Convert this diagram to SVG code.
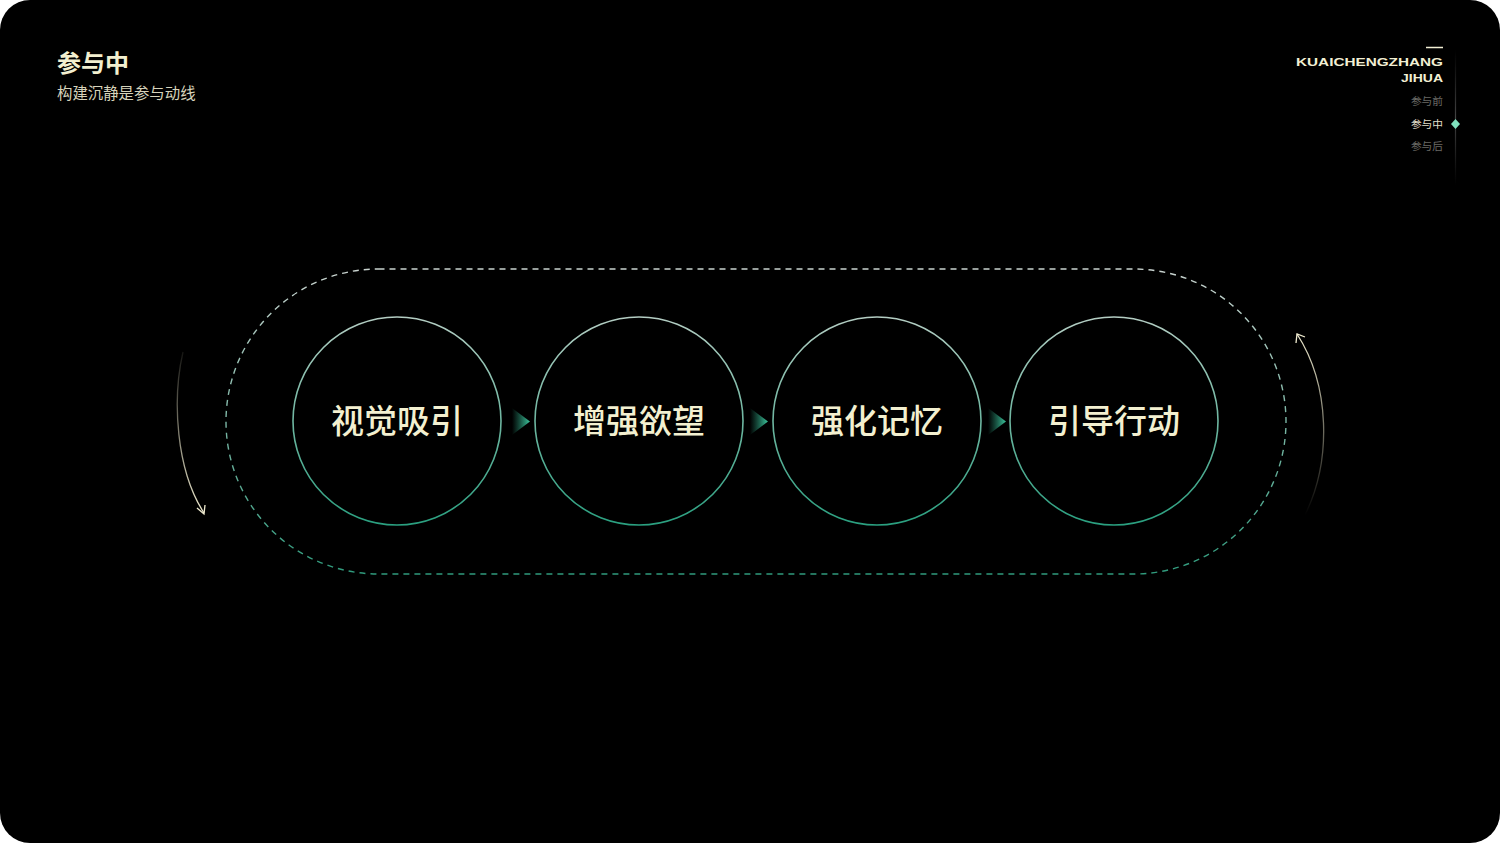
<svg xmlns="http://www.w3.org/2000/svg" width="1500" height="843" viewBox="0 0 1500 843">
  <defs>
    <linearGradient id="ringGrad" x1="0" y1="0" x2="0" y2="1">
      <stop offset="0" stop-color="#b4cdc3"/>
      <stop offset="1" stop-color="#2aa080"/>
    </linearGradient>
    <linearGradient id="dashGrad" gradientUnits="userSpaceOnUse" x1="0" y1="269" x2="0" y2="574">
      <stop offset="0" stop-color="#c9d3cf"/>
      <stop offset="1" stop-color="#2f9a7c"/>
    </linearGradient>
    <linearGradient id="triGrad" x1="0" y1="0" x2="1" y2="0">
      <stop offset="0" stop-color="#2fa886" stop-opacity="0"/>
      <stop offset="1" stop-color="#3cc49c"/>
    </linearGradient>
    <linearGradient id="leftArcGrad" gradientUnits="userSpaceOnUse" x1="0" y1="345" x2="0" y2="515">
      <stop offset="0" stop-color="#f0ecd0" stop-opacity="0.05"/>
      <stop offset="1" stop-color="#f0ecd0"/>
    </linearGradient>
    <linearGradient id="rightArcGrad" gradientUnits="userSpaceOnUse" x1="0" y1="515" x2="0" y2="332">
      <stop offset="0" stop-color="#f0ecd0" stop-opacity="0"/>
      <stop offset="1" stop-color="#f0ecd0"/>
    </linearGradient>
    <linearGradient id="railGrad" gradientUnits="userSpaceOnUse" x1="0" y1="50" x2="0" y2="185">
      <stop offset="0" stop-color="#3a3a3a" stop-opacity="0"/>
      <stop offset="0.5" stop-color="#444"/>
      <stop offset="1" stop-color="#3a3a3a" stop-opacity="0"/>
    </linearGradient>
    <style>
      .ring { fill: none; stroke: url(#ringGrad); stroke-width: 1.6; }
      .label { font-family: "Noto Sans CJK SC", "Noto Sans", sans-serif; font-size: 33px; font-weight: 500; fill: #f3f0d0; text-anchor: middle; }
      .tri { fill: url(#triGrad); }
      .menu { font-family: "Noto Sans CJK SC", sans-serif; font-size: 10.7px; text-anchor: end; }
      .brand { font-family: "Liberation Sans", "DejaVu Sans", sans-serif; font-weight: bold; font-size: 11px; fill: #f2efd4; text-anchor: end; }
    </style>
  </defs>

  <rect x="0" y="0" width="1500" height="843" fill="#ffffff"/>
  <rect x="0" y="0" width="1500" height="843" rx="30" ry="30" fill="#000000"/>

  <g id="title">
    <text x="57" y="72" font-family="Noto Sans CJK SC, sans-serif" font-size="24" font-weight="700" fill="#f2efcf">参与中</text>
    <text x="57" y="99" font-family="Noto Sans CJK SC, sans-serif" font-size="15.4" fill="#d6d3bb">构建沉静是参与动线</text>
  </g>

  <g id="nav">
    <line x1="1426" y1="47.5" x2="1443" y2="47.5" stroke="#f2efd4" stroke-width="1.5"/>
    <text class="brand" x="1443" y="66" textLength="147" lengthAdjust="spacingAndGlyphs">KUAICHENGZHANG</text>
    <text class="brand" x="1443" y="82" textLength="42" lengthAdjust="spacingAndGlyphs">JIHUA</text>
    <line x1="1455.5" y1="50" x2="1455.5" y2="185" stroke="url(#railGrad)" stroke-width="1.2"/>
    <text class="menu" x="1443" y="105" fill="#6a6a66">参与前</text>
    <text class="menu" x="1443" y="128" fill="#e2dfca">参与中</text>
    <text class="menu" x="1443" y="150" fill="#6a6a66">参与后</text>
    <path d="M1455.5 119 L1460 124 L1455.5 129 L1451 124 Z" fill="#7fe0bd"/>
  </g>

  <g id="connectors">
    <rect x="226" y="269" width="1060" height="305" rx="152.5" ry="152.5" fill="none" stroke="url(#dashGrad)" stroke-width="1.4" stroke-dasharray="6 5"/>
    <path d="M183 352 C172 400 176 470 204 513" fill="none" stroke="url(#leftArcGrad)" stroke-width="1.3"/>
    <path d="M197 508 L204 514 L205 505" fill="none" stroke="#f0ecd0" stroke-width="1.3"/>
    <path d="M1305 515 C1332 460 1330 385 1297 334" fill="none" stroke="url(#rightArcGrad)" stroke-width="1.3"/>
    <path d="M1296 343 L1297 334 L1305 337" fill="none" stroke="#f0ecd0" stroke-width="1.3"/>
    <path class="tri" d="M512 408 L530 421.5 L512 435 Z"/>
    <path class="tri" d="M750 408 L768 421.5 L750 435 Z"/>
    <path class="tri" d="M988 408 L1006 421.5 L988 435 Z"/>
  </g>

  <g id="node1">
    <circle class="ring" cx="397" cy="421" r="104"/>
    <text class="label" x="397" y="433">视觉吸引</text>
  </g>
  <g id="node2">
    <circle class="ring" cx="639" cy="421" r="104"/>
    <text class="label" x="639" y="433">增强欲望</text>
  </g>
  <g id="node3">
    <circle class="ring" cx="877" cy="421" r="104"/>
    <text class="label" x="877" y="433">强化记忆</text>
  </g>
  <g id="node4">
    <circle class="ring" cx="1114" cy="421" r="104"/>
    <text class="label" x="1114" y="433">引导行动</text>
  </g>
</svg>
